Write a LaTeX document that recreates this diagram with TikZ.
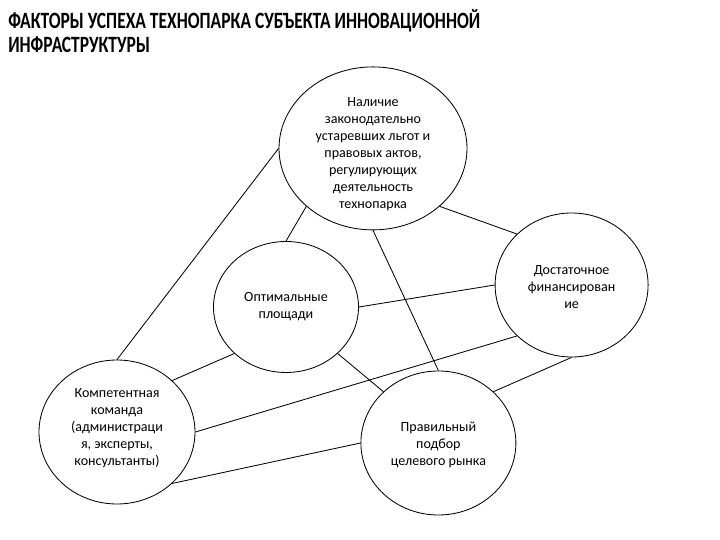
\documentclass[tikz,border=0pt]{standalone}
\usepackage{fontspec}
\setmainfont{Carlito}
\newfontfamily\titlefont[FakeStretch=0.75]{Carlito}
\usepackage{tikz}
\usetikzlibrary{shapes.geometric}

\begin{document}
\begin{tikzpicture}[
  bubble/.style={ellipse, draw, line width=0.6pt, inner sep=0pt},
  lbl/.style={align=center, inner sep=0pt, font=\fontsize{10}{12.1}\selectfont},
  link/.style={line width=0.6pt},
]
\useasboundingbox (0,0) rectangle (18,13.5);

%% Title
\node[anchor=base west, align=left, inner sep=0pt,
      font=\titlefont\bfseries\fontsize{16.6}{17.1}\selectfont] (title) at (0.2,12.175)
  {ФАКТОРЫ УСПЕХА ТЕХНОПАРКА СУБЪЕКТА ИННОВАЦИОННОЙ\\ИНФРАСТРУКТУРЫ};

%% Factors
\node[bubble, minimum width=4.7cm, minimum height=4.075cm,
      label={[lbl, yshift=-0.15cm]center:Наличие\\законодательно\\устаревших льгот и\\правовых актов,\\регулирующих\\деятельность\\технопарка}]
  (law) at (9.325,9.79) {};
\node[bubble, minimum width=3.625cm, minimum height=3.275cm,
      label={[lbl]center:Оптимальные\\площади}]
  (area) at (7.15,5.825) {};
\node[bubble, minimum width=3.825cm, minimum height=3.6cm,
      label={[lbl, yshift=-0.05cm]center:Достаточное\\финансирован\\ие}]
  (money) at (14.29,6.375) {};
\node[bubble, minimum width=3.9cm, minimum height=3.6cm,
      label={[lbl, yshift=0.1cm]center:Компетентная\\команда\\(администраци\\я, эксперты,\\консультанты)}]
  (team) at (2.925,2.7) {};
\node[bubble, minimum width=3.875cm, minimum height=3.6cm,
      label={[lbl, yshift=-0.05cm]center:Правильный\\подбор\\целевого рынка}]
  (market) at (10.96,2.425) {};

%% Links
\draw[link] (law.180)   -- (team.90);
\draw[link] (law.221)   -- (area.90);
\draw[link] (law.270)   -- (market.90);
\draw[link] (law.319)   -- (money.137);
\draw[link] (area.0)    -- (money.180);
\draw[link] (area.318)  -- (market.137);
\draw[link] (area.222)  -- (team.43);
\draw[link] (money.223) -- (team.0);
\draw[link] (money.270) -- (market.43);
\draw[link] (team.317)  -- (market.180);

\end{tikzpicture}
\end{document}
